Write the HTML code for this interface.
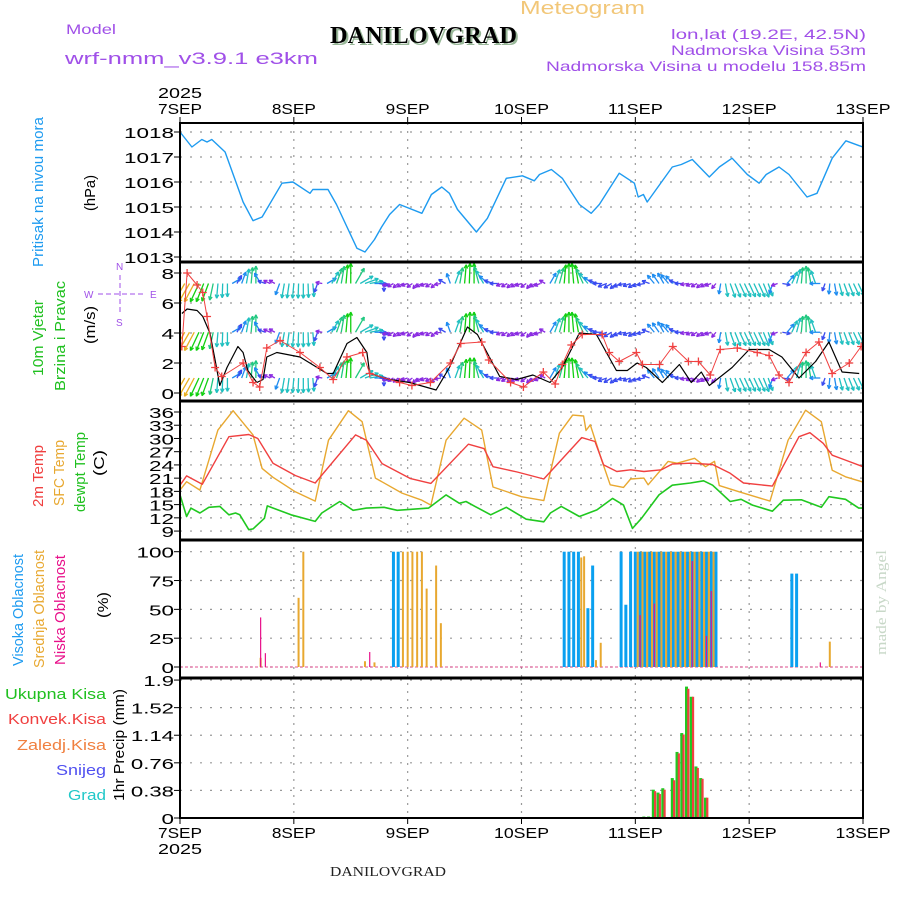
<!DOCTYPE html>
<html><head><meta charset="utf-8"><style>
html,body{margin:0;padding:0;background:#fff;}
svg{display:block;font-family:"Liberation Sans",sans-serif;}
</style></head><body>
<svg id="chart" width="900" height="900" viewBox="0 0 900 900" xmlns="http://www.w3.org/2000/svg">
<defs>
<clipPath id="cw"><rect x="180" y="263" width="683" height="138"/></clipPath>
</defs>
<text x="520" y="14" fill="#f2c779" font-size="18" textLength="125" lengthAdjust="spacingAndGlyphs">Meteogram</text>
<text x="66" y="34" fill="#a050e8" font-size="14" textLength="50" lengthAdjust="spacingAndGlyphs">Model</text>
<text x="65" y="64" fill="#a050e8" font-size="17" textLength="253" lengthAdjust="spacingAndGlyphs">wrf-nmm_v3.9.1 e3km</text>
<text x="332" y="45" fill="#99b899" font-family="Liberation Serif,serif" font-weight="bold" font-size="24" textLength="187" lengthAdjust="spacingAndGlyphs">DANILOVGRAD</text>
<text x="330" y="43" fill="#000" font-family="Liberation Serif,serif" font-weight="bold" font-size="24" textLength="187" lengthAdjust="spacingAndGlyphs">DANILOVGRAD</text>
<text x="866" y="39" fill="#a050e8" font-size="14" text-anchor="end" textLength="195" lengthAdjust="spacingAndGlyphs">lon,lat (19.2E, 42.5N)</text>
<text x="866" y="55" fill="#a050e8" font-size="14" text-anchor="end" textLength="195" lengthAdjust="spacingAndGlyphs">Nadmorska Visina 53m</text>
<text x="866" y="71" fill="#a050e8" font-size="14" text-anchor="end" textLength="320" lengthAdjust="spacingAndGlyphs">Nadmorska Visina u modelu 158.85m</text>
<text x="330" y="876" fill="#222" font-family="Liberation Serif,serif" font-size="14" textLength="116" lengthAdjust="spacingAndGlyphs">DANILOVGRAD</text>
<text transform="translate(886,655) rotate(-90)" fill="#c8d8c8" font-family="Liberation Serif,serif" font-size="15" textLength="105" lengthAdjust="spacingAndGlyphs">made by Angel</text>

<g font-size="15">
<text transform="translate(43,192) rotate(-90)" text-anchor="middle" fill="#1e9bf0" textLength="150" lengthAdjust="spacingAndGlyphs">Pritisak na nivou mora</text>
<text transform="translate(95,193) rotate(-90)" text-anchor="middle" fill="#000" textLength="36" lengthAdjust="spacingAndGlyphs">(hPa)</text>
<text transform="translate(43,338) rotate(-90)" text-anchor="middle" fill="#20c020" textLength="76" lengthAdjust="spacingAndGlyphs">10m Vjetar</text>
<text transform="translate(65,336) rotate(-90)" text-anchor="middle" fill="#20c020" textLength="110" lengthAdjust="spacingAndGlyphs">Brzina i Pravac</text>
<text transform="translate(95,325) rotate(-90)" text-anchor="middle" fill="#000" textLength="38" lengthAdjust="spacingAndGlyphs">(m/s)</text>
<text transform="translate(43,476) rotate(-90)" text-anchor="middle" fill="#f04040" textLength="62" lengthAdjust="spacingAndGlyphs">2m Temp</text>
<text transform="translate(64,473) rotate(-90)" text-anchor="middle" fill="#e8a830" textLength="66" lengthAdjust="spacingAndGlyphs">SFC Temp</text>
<text transform="translate(85,472) rotate(-90)" text-anchor="middle" fill="#20c020" textLength="80" lengthAdjust="spacingAndGlyphs">dewpt Temp</text>
<text transform="translate(104,463) rotate(-90)" text-anchor="middle" fill="#000" textLength="26" lengthAdjust="spacingAndGlyphs">(C)</text>
<text transform="translate(23,610) rotate(-90)" text-anchor="middle" fill="#1e9bf0" textLength="112" lengthAdjust="spacingAndGlyphs">Visoka Oblacnost</text>
<text transform="translate(44,609) rotate(-90)" text-anchor="middle" fill="#e8a830" textLength="118" lengthAdjust="spacingAndGlyphs">Srednja Oblacnost</text>
<text transform="translate(65,610) rotate(-90)" text-anchor="middle" fill="#e8108a" textLength="110" lengthAdjust="spacingAndGlyphs">Niska Oblacnost</text>
<text transform="translate(108,605) rotate(-90)" text-anchor="middle" fill="#000" textLength="26" lengthAdjust="spacingAndGlyphs">(%)</text>
<text x="106" y="699" text-anchor="end" fill="#20c020" textLength="101" lengthAdjust="spacingAndGlyphs">Ukupna Kisa</text>
<text x="106" y="724" text-anchor="end" fill="#f04040" textLength="98" lengthAdjust="spacingAndGlyphs">Konvek.Kisa</text>
<text x="106" y="750" text-anchor="end" fill="#f08040" textLength="89" lengthAdjust="spacingAndGlyphs">Zaledj.Kisa</text>
<text x="106" y="775" text-anchor="end" fill="#5050f0" textLength="50" lengthAdjust="spacingAndGlyphs">Snijeg</text>
<text x="106" y="800" text-anchor="end" fill="#20c8c8" textLength="38" lengthAdjust="spacingAndGlyphs">Grad</text>
<text transform="translate(124,745) rotate(-90)" text-anchor="middle" fill="#000" textLength="112" lengthAdjust="spacingAndGlyphs">1hr Precip (mm)</text>
</g>
<g fill="#a050e8" stroke="#a050e8" font-size="10">
<text x="116" y="270" stroke="none">N</text><text x="116" y="326" stroke="none">S</text>
<text x="84" y="298" stroke="none">W</text><text x="150" y="298" stroke="none">E</text>
<line x1="98" y1="294" x2="146" y2="294" stroke-width="1" stroke-dasharray="5,3"/>
<line x1="120" y1="275" x2="120" y2="314" stroke-width="1" stroke-dasharray="5,3"/>
</g>
<g id="plot"></g>
</svg>
<script>
// ---------------- data ----------------
const dayLabels = ["7SEP","8SEP","9SEP","10SEP","11SEP","12SEP","13SEP"];
const yearLabel = "2025";
const pressHours = [0,2.5,4.6,5.7,6.7,9.5,13.3,15.4,17.3,21.5,23.8,27.4,28,31.2,33,37.3,39,41,42.5,44.2,46.3,51,53,55.2,56.8,58.5,62.5,64.8,68.8,72.2,74.7,75.8,78.3,80.6,84.2,86.7,88.4,92.6,95.8,96.6,97.7,98.5,103.8,105.7,108,111.6,113.7,116.4,119.6,122.1,123.6,126.3,128.4,132.2,134.3,137.5,140.4,143.2,144];
const pressVals = [1018,1017.4,1017.7,1017.6,1017.7,1017.2,1015.2,1014.45,1014.6,1015.95,1016,1015.55,1015.7,1015.7,1015.1,1013.35,1013.2,1013.7,1014.2,1014.7,1015.1,1014.75,1015.5,1015.8,1015.55,1014.9,1014.0,1014.55,1016.15,1016.25,1016.05,1016.3,1016.5,1016.15,1015.1,1014.75,1015.1,1016.35,1015.95,1015.4,1015.5,1015.2,1016.6,1016.7,1016.9,1016.2,1016.6,1016.95,1016.3,1015.95,1016.3,1016.6,1016.3,1015.4,1015.55,1016.95,1017.65,1017.45,1017.4];
const pressTicks = [1013,1014,1015,1016,1017,1018];

const windLineHours = [0.4,1.5,3.6,4.8,6.3,7.4,8.4,9.9,12.2,13.3,14.3,16.2,17.5,18.3,20.4,25.3,31,32.3,35.2,37.3,39.4,40,44.2,48.4,54,56.8,60.6,62.7,67.4,71,74.4,78,80.6,84.2,87.8,92,94.3,96.4,98.3,101.7,105.3,107.8,109.9,111.6,116.4,120,124.2,126.9,130.5,134,136.8,139.6,143.2];
const windLineVals = [5.3,5.6,5.5,5.1,4,2.2,0.5,1.7,3.1,2.7,1.5,0.7,0.9,2.4,2.7,2.4,1.3,1.3,3.3,3.7,2.7,1.3,0.9,0.7,0.2,1.7,4.4,3.9,1.1,0.9,1.2,0.7,1.7,4.0,3.9,1.5,1.5,2.0,1.7,0.7,1.9,0.7,1.4,0.5,1.7,2.9,2.9,2.4,1.0,2.1,3.4,1.4,1.3,3.0];
const windCrossHours = [0.4,1.5,3.6,4.8,5.7,7.4,8.8,13.3,15.4,16.8,18.3,21.1,25.3,29.5,32.3,35.2,38.5,40,46.3,48.9,52.8,57,59.2,63.6,65.1,69.7,72.4,76.6,79.1,80.6,82.5,84.8,89,90.5,92.6,96.2,97.5,101.1,103.9,107.2,109.3,111.8,113.9,117.5,121.7,124.2,126.3,128.4,132,134.7,137.5,141.1,143.6];
const windCrossVals = [3.1,8,7.2,6.7,5.1,1.7,1.1,2.0,0.7,0.4,3.0,3.5,2.7,1.7,0.9,2.4,2.7,1.3,0.7,0.5,0.7,2.0,3.3,3.4,2.2,0.7,0.4,1.4,0.6,1.9,3.2,3.9,3.9,2.7,2.1,2.7,1.9,1.9,3.1,2.1,2.1,1.2,2.9,3.0,2.7,2.5,1.2,0.7,2.7,3.4,1.3,2.0,3.1];
const windTicks = [0,2,4,6,8];
const arrowDir = [
210,210,210,208,205,202,200,192,185,182,
180,60,30,20,10,5,0,330,290,295,
300,200,190,188,185,182,180,178,175,200,
280,60,30,20,10,5,0,30,60,70,
80,90,100,180,250,240,230,240,250,235,
220,240,250,240,230,260,300,340,20,10,
5,2,0,345,330,310,290,270,250,240,
230,240,250,235,220,240,250,300,30,20,
15,5,0,355,350,335,320,305,290,270,
250,240,230,245,260,250,240,250,260,290,
320,325,330,320,315,290,270,260,250,240,
230,240,250,220,190,170,160,158,155,155,
155,155,155,158,160,200,250,100,40,25,
15,5,0,350,340,270,200,185,170,165,
160,158,155,155,155];
const arrowSpd = [
6.5,6.5,6.5,6.2,6,5.8,5.5,4.8,4,3.8,
3.5,2.5,2,3,4,4.5,5,3,1.5,1.2,
1,3,4,4,4,4,4,3.8,3.5,2,
1,2.5,3.5,4.5,5,5.5,6,5,4,3.8,
3.5,2.8,2,1.5,1,1,1,1,1,1,
1,1,1,1,1,1,1.5,2.5,3.5,4.5,
5.5,6,6,5,4,3,2,1.5,1,1,
1,1,1,1,1,1,1,1,3,4,
4.5,5.5,6,6,5.5,4.5,3.5,2.5,2,2,
2,1.8,1.5,1.5,1.5,1.5,1.5,1.5,1.5,1.5,
2.5,2.8,3,2.8,2.5,2,1.5,1.2,1,1,
1,1,1,1,2.5,3.5,4,4,4,4,
4,4,4,4,3.5,2.5,1,1.5,2.5,3.2,
4,4.5,5,4.5,3.5,2.5,1.5,2.5,3,3.2,
3.5,3.5,3.5,3.5,3.5];
const arrowHours = arrowDir.map((d, i) => i);
const arrowRows = [7.3,4.05,1.0];

const tempHours = [0,1.4,4.7,10.3,14.5,16.4,19.6,24.3,28.5,37,39.3,42.6,48.6,52.9,60.8,64.1,66,71.1,76.7,84.7,87.5,89.3,92.1,95,97.8,101.5,103.8,107.6,112.3,116,118.8,124.9,130.5,132.8,135.6,137.5,140.3,144];
const temp2m = [19.4,21.5,19.6,30.4,30.9,30.0,24.4,21.6,19.9,30.8,29.6,24.3,20.9,19.8,28.7,27.7,23.6,22.4,20.8,30.2,29.3,24.0,22.5,22.9,22.5,22.9,24.2,24.4,24.1,22.1,19.9,19.2,30.4,31.3,28.9,26.2,25.1,23.6];
const sfcHours = [0,1.4,4.2,8,11.2,15.4,17.3,19.6,24.3,28.5,31.3,35.5,38.4,41.2,46.8,51,52.9,56.1,59.9,63.6,66,72,76.7,80,82.8,85.1,85.6,86.5,88.9,90.7,93.5,95,97.8,98.7,102.9,104.8,108.5,110.8,112.7,113.7,117.9,124.4,128.2,131.9,135.2,137.5,140.3,144];
const sfcTemp = [18.3,20.2,18.3,31.9,36.3,30.8,23.2,21.2,17.9,15.8,29.6,36.3,33.8,21.0,17.6,16.0,14.9,29.6,34.6,31.9,19.0,16.8,15.9,31.2,35.3,35.1,31.8,33.1,25.1,19.5,18.9,20.8,21.0,19.5,24.8,24.4,25.5,23.6,24.8,19.3,17.9,15.8,29.6,36.4,33.8,22.8,21.3,20.1];
const dewHours = [0,1.4,2.3,4.2,6.1,8.4,10.3,11.7,12.6,14.5,15.4,17.8,18.4,23.4,28.5,29.9,33.7,36.5,39.3,43,45.8,52.4,56.1,58.9,60.3,62.2,65.5,68.8,73,76.7,78.1,80.4,84.2,87.9,91.2,93.5,95.4,97.3,101,103.8,107.6,110.4,112.3,116,118.3,120.7,124.9,127.2,131,135.2,136.8,140.3,143.1,144];
const dewTemp = [17.2,12.3,14.2,13.1,14.4,14.6,12.7,13.1,12.7,9.3,9.5,11.9,14.7,12.7,11.2,13.1,15.7,13.7,14.2,14.4,13.7,14.2,17.2,15.3,15.7,14.6,12.7,14.4,11.7,11.1,13.1,14.6,12.3,13.8,16.4,14.9,9.6,11.9,17.2,19.4,19.9,20.4,19.4,15.7,16.2,14.9,13.5,16.0,16.1,14.4,16.8,16.2,14.2,14.2];
const tempTicks = [9,12,15,18,21,24,27,30,33,36];

const highCloudHours = [45,46,81,82,83,84,86,87,93,94,95,96,97,98,99,100,101,102,103,104,105,106,107,108,109,110,111,112,113,129,130];
const highCloudVals = [100,100,100,100,100,100,51,88,100,54,100,100,100,100,100,100,100,100,100,100,100,100,100,100,100,100,100,100,100,81,81];
const midCloudHours = [17,25,26,39,41,47,48,49,50,51,52,54,55,84.6,85.2,87.7,88.7,96.5,97.5,98.5,99.5,100.5,101.5,102.5,103.5,104.5,105.5,106.5,107.5,108.5,109.5,110.5,111.5,112.5,137];
const midCloudVals = [8,60,100,5,4,100,100,100,100,100,68,88,38,95,96,6,21,100,100,100,100,100,100,100,100,100,100,100,100,100,100,100,100,100,22];
const lowCloudHours = [17,18,40,97,100,108,111,112,135];
const lowCloudVals = [43,12,13,45,55,92,27,66,4];
const cloudTicks = [0,25,50,75,100];

const precipHours = [98,99,100,101,102,104,105,106,107,108,109,110,111];
const totalPrecip = [0.02,0.02,0.39,0.35,0.41,0.55,0.91,1.17,1.81,1.67,0.71,0.55,0.28];
const convPrecip = [0.01,0.01,0.37,0.33,0.39,0.52,0.89,1.15,1.78,1.67,0.69,0.54,0.28];
const precipTicks = [0,0.38,0.76,1.14,1.52,1.9];
const precipTickLabels = ["0","0.38","0.76","1.14","1.52","1.9"];

// ---------------- scales ----------------
const X0 = 180, X1 = 863, HOURS = 144;
const xh = h => X0 + h * (X1 - X0) / HOURS;
const yP = v => 132 + (1018 - v) * 25;
const yW = v => 393 - v * 15;
const yT = v => 412 + (36 - v) * 4.41;
const yC = v => 667 - v * 1.153;
const yR = v => 818 - v * 72.6;
const panels = [[123,262],[262,401],[401,540],[540,678],[678,818]];

const NS = "http://www.w3.org/2000/svg";
const plot = document.getElementById("plot");
function mk(tag, attrs, parent) {
  const e = document.createElementNS(NS, tag);
  for (const k in attrs) e.setAttribute(k, attrs[k]);
  (parent || plot).appendChild(e);
  return e;
}
function charLen(s, w) { let n = 0; for (const c of s) n += (c === "." ? w * 0.45 : w); return n; }

function yAxis(ticks, labels, yf, name) {
  const g = mk("g", {});
  
  
  ticks.forEach((t, i) => {
    const y = yf(t);
    const gl = mk("line", {x1: X0, x2: X1, y1: y, y2: y, stroke: "#999", "stroke-width": 1.2, "stroke-dasharray": "2,8"}, g);
    
    
    mk("line", {x1: X0 - 6, x2: X0, y1: y, y2: y, stroke: "#000", "stroke-width": 1}, g);
    const lab = String(labels[i]);
    const tx = mk("text", {x: X0 - 6, y: y + 6, "text-anchor": "end", "font-size": 15, fill: "#000", textLength: charLen(lab, 12.5), lengthAdjust: "spacingAndGlyphs"}, g);
    tx.textContent = lab;
    
    
  });
}
yAxis(pressTicks, pressTicks, yP, "pressure");
yAxis(windTicks, windTicks, yW, "wind");
yAxis(tempTicks, tempTicks, yT, "temp");
yAxis(cloudTicks, cloudTicks, yC, "cloud");
yAxis(precipTicks, precipTickLabels, yR, "precip");

dayLabels.forEach((d, i) => {
  const x = xh(i * 24);
  if (i > 0 && i < 6) {
    const vl = mk("line", {x1: x, x2: x, y1: 123, y2: 818, stroke: "#999", "stroke-width": 1.2, "stroke-dasharray": "2,6"});
    
    
  }
  mk("line", {x1: x, x2: x, y1: 117, y2: 123, stroke: "#000"});
  mk("line", {x1: x, x2: x, y1: 818, y2: 824, stroke: "#000"});
  const w = d.length * 11;
  const t1 = mk("text", {x: x, y: 114, "text-anchor": "middle", "font-size": 15, textLength: w, lengthAdjust: "spacingAndGlyphs"});
  t1.textContent = d;
  
  
  const t2 = mk("text", {x: x, y: 838, "text-anchor": "middle", "font-size": 15, textLength: w, lengthAdjust: "spacingAndGlyphs"});
  t2.textContent = d;
  
  
});
const yt1 = mk("text", {x: xh(0), y: 98, "text-anchor": "middle", "font-size": 15, textLength: 44, lengthAdjust: "spacingAndGlyphs"});
yt1.textContent = yearLabel;


const yt2 = mk("text", {x: xh(0), y: 854, "text-anchor": "middle", "font-size": 15, textLength: 44, lengthAdjust: "spacingAndGlyphs"});
yt2.textContent = yearLabel;



function line(hs, vs, yf, color, w, name, parent) {
  const pts = hs.map((h, i) => xh(h).toFixed(1) + "," + yf(vs[i]).toFixed(1)).join(" ");
  const p = mk("polyline", {points: pts, fill: "none", stroke: color, "stroke-width": w, "stroke-linejoin": "round"}, parent);
  
  
  return p;
}

line(pressHours, pressVals, yP, "#1e9bf0", 1.4, "pressure-line");

const wg = mk("g", {"clip-path": "url(#cw)"});


function spdColor(s) {
  if (s <= 1.2) return "#8a2be2";
  if (s <= 2) return "#3a4cf0";
  if (s <= 3) return "#1e8cf0";
  if (s <= 4.2) return "#20c0c0";
  if (s <= 5) return "#20c880";
  if (s <= 6) return "#10d010";
  return "#e8b020";
}
arrowRows.forEach(rv => {
  arrowHours.forEach((h, i) => {
    const x = xh(h), y = yW(rv);
    const a = arrowDir[i] * Math.PI / 180, L = 4 + arrowSpd[i] * 2.7;
    const tx = x + L * Math.sin(a), ty = y - L * Math.cos(a);
    const c = spdColor(arrowSpd[i]);
    const ar = mk("g", {stroke: c, "stroke-width": 1.3, fill: "none"}, wg);
    
    
    mk("line", {x1: x, y1: y, x2: tx, y2: ty}, ar);
    const hl = 4;
    for (const da of [0.45, -0.45]) {
      const b = a + Math.PI + da;
      mk("line", {x1: tx, y1: ty, x2: tx + hl * Math.sin(b), y2: ty - hl * Math.cos(b)}, ar);
    }
  });
});
const wl = mk("g", {"clip-path": "url(#cw)"});
line(windLineHours, windLineVals, yW, "#000", 1.2, "wind-speed-line", wl);
line(windCrossHours, windCrossVals, yW, "#f04040", 1, "wind-gust-line", wl);
windCrossHours.forEach((h, i) => {
  const x = xh(h), y = yW(windCrossVals[i]);
  const c = mk("path", {d: `M${x-4},${y}H${x+4}M${x},${y-4}V${y+4}`, stroke: "#f04040", "stroke-width": 1.3}, wl);
  
  
});

line(sfcHours, sfcTemp, yT, "#e8a830", 1.4, "sfc-temp-line");
line(tempHours, temp2m, yT, "#f04040", 1.4, "temp-2m-line");
line(dewHours, dewTemp, yT, "#20c820", 1.6, "dewpoint-line");

mk("line", {x1: X0, x2: X1, y1: yC(0), y2: yC(0), stroke: "#e05090", "stroke-width": 1, "stroke-dasharray": "3,2"});
function bars(hs, vs, yf, color, w, off, name) {
  hs.forEach((h, i) => {
    const x = xh(h) + off, y = yf(vs[i]);
    const r = mk("rect", {x: x - w / 2, y: y, width: w, height: yf(0) - y, fill: color});
    
    
  });
}
bars(highCloudHours, highCloudVals, yC, "#0aa0f0", 3, 0, "high-cloud-bar");
bars(midCloudHours, midCloudVals, yC, "#e8a830", 2, 0, "mid-cloud-bar");
bars(lowCloudHours, lowCloudVals, yC, "#e8108a", 1.2, 0, "low-cloud-bar");

bars(precipHours, totalPrecip, yR, "#20c820", 3, -1, "total-precip-bar");
bars(precipHours, convPrecip, yR, "#f04040", 2.2, 0.8, "conv-precip-bar");

panels.forEach(p => {
  const r = mk("rect", {x: X0, y: p[0], width: X1 - X0, height: p[1] - p[0], fill: "none", stroke: "#000", "stroke-width": 2});
  
  
});
[262, 401, 540, 678].forEach(y => mk("line", {x1: X0, x2: X1, y1: y, y2: y, stroke: "#000", "stroke-width": 3}));
</script>
</body></html>
